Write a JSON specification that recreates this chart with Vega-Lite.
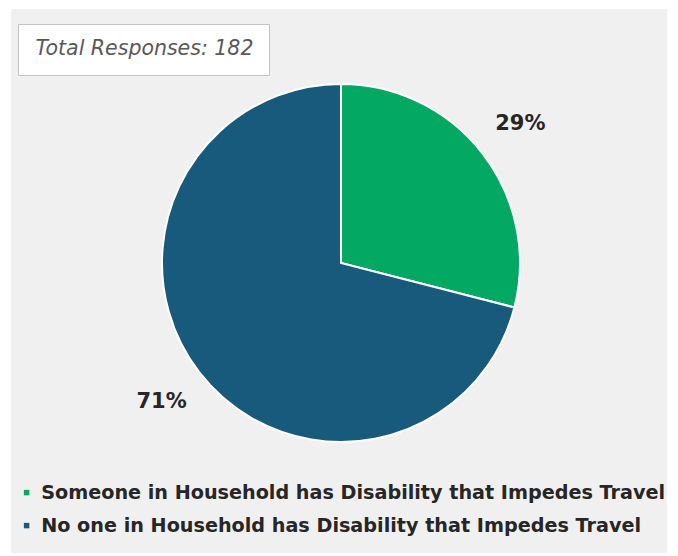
{
  "$schema": "https://vega.github.io/schema/vega-lite/v6.json",
  "width": 678,
  "height": 556,
  "autosize": {"type": "fit", "contains": "padding"},
  "padding": {"left": 11, "top": 9, "right": 11, "bottom": 3},
  "background": "#ffffff",
  "view": {"fill": "#f0f0f0", "stroke": null},
  "config": {
    "font": "DejaVu Sans"
  },
  "data": {
    "values": [
      {"category": "Someone in Household has Disability that Impedes Travel", "pct": 29, "label": "29%", "total": "Total Responses: 182"},
      {"category": "No one in Household has Disability that Impedes Travel", "pct": 71, "label": "71%", "total": "Total Responses: 182"}
    ]
  },
  "layer": [
    {
      "mark": {"type": "arc", "radius": 179, "stroke": "#ffffff", "strokeWidth": 2, "xOffset": 2, "yOffset": -18},
      "encoding": {
        "theta": {"field": "pct", "type": "quantitative", "stack": true},
        "order": {"field": "pct", "type": "quantitative"},
        "color": {
          "field": "category",
          "type": "nominal",
          "sort": ["Someone in Household has Disability that Impedes Travel", "No one in Household has Disability that Impedes Travel"],
          "scale": {
            "domain": ["Someone in Household has Disability that Impedes Travel", "No one in Household has Disability that Impedes Travel"],
            "range": ["#03a862", "#175a7c"]
          },
          "legend": {
            "title": null,
            "orient": "none",
            "legendX": 6,
            "legendY": 474,
            "padding": 0,
            "symbolType": "square",
            "symbolSize": 30,
            "symbolStrokeWidth": 0,
            "labelFont": "DejaVu Sans",
            "labelFontWeight": "bold",
            "labelFontSize": 19.2,
            "labelColor": "#262626",
            "labelLimit": 700,
            "labelOffset": 5,
            "rowPadding": 13
          }
        },
        "opacity": {
          "field": "total",
          "type": "nominal",
          "scale": {"range": [1, 1]},
          "legend": {
            "title": null,
            "orient": "none",
            "legendX": 7,
            "legendY": 15,
            "padding": 15,
            "fillColor": "#ffffff",
            "strokeColor": "#c4c4c4",
            "symbolSize": 0,
            "symbolOpacity": 0,
            "labelOffset": -18,
            "labelFont": "DejaVu Sans",
            "labelFontStyle": "italic",
            "labelFontSize": 20.5,
            "labelColor": "#595959",
            "labelLimit": 400
          }
        }
      }
    },
    {
      "mark": {"type": "text", "radius": 227, "xOffset": 2, "yOffset": -18, "font": "DejaVu Sans", "fontWeight": "bold", "fontSize": 21, "color": "#262626"},
      "encoding": {
        "theta": {"field": "pct", "type": "quantitative", "stack": true},
        "order": {"field": "pct", "type": "quantitative"},
        "text": {"field": "label", "type": "nominal"}
      }
    }
  ]
}
